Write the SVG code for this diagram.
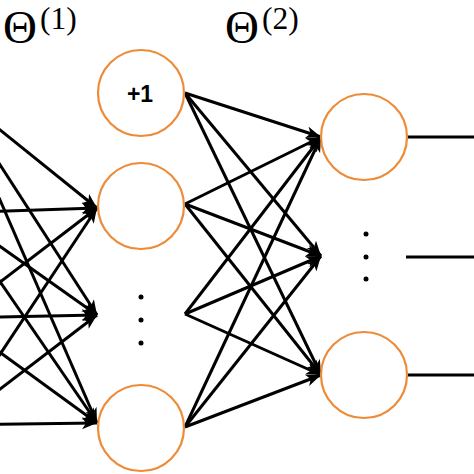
<svg xmlns="http://www.w3.org/2000/svg" width="474" height="474" viewBox="0 0 474 474">
<style>
.node{fill:#fff;stroke:#ED8B38;stroke-width:2.2}
.edge{stroke:#000;stroke-width:3;fill:none;marker-end:url(#arr)}
.out{stroke:#000;stroke-width:3;fill:none}
.dot{fill:#000}
.bias{font-family:"Liberation Sans",Arial,sans-serif;font-weight:bold;font-size:23px;fill:#000}
.theta{font-family:"Liberation Serif","Times New Roman",serif;fill:#000}
</style>
<defs>
<marker id="arr" markerUnits="userSpaceOnUse" markerWidth="16" markerHeight="13" refX="15" refY="6" orient="auto">
<path d="M0,0 L15,6 L0,12 L4,6 z" fill="#000"/>
</marker>
</defs>
<rect width="474" height="474" fill="#fff"/>
<g id="labels">
<text class="theta" x="3" y="42.5" font-size="47">Θ</text>
<text class="theta" x="40" y="28.5" font-size="31.5">(1)</text>
<text class="theta" x="225" y="42.5" font-size="47">Θ</text>
<text class="theta" x="262" y="28.5" font-size="31.5">(2)</text>
</g>
<g id="connectors">
<line class="edge" x1="-47" y1="92" x2="97" y2="208"/>
<line class="edge" x1="-47" y1="92" x2="97" y2="315"/>
<line class="edge" x1="-47" y1="92" x2="97" y2="423"/>
<line class="edge" x1="-47" y1="213" x2="97" y2="208"/>
<line class="edge" x1="-47" y1="213" x2="97" y2="315"/>
<line class="edge" x1="-47" y1="213" x2="97" y2="423"/>
<line class="edge" x1="-47" y1="318" x2="97" y2="208"/>
<line class="edge" x1="-47" y1="318" x2="97" y2="315"/>
<line class="edge" x1="-47" y1="318" x2="97" y2="423"/>
<line class="edge" x1="-47" y1="425" x2="97" y2="208"/>
<line class="edge" x1="-47" y1="425" x2="97" y2="315"/>
<line class="edge" x1="-47" y1="425" x2="97" y2="423"/>
<line class="edge" x1="185" y1="93" x2="321" y2="137"/>
<line class="edge" x1="185" y1="93" x2="321" y2="256"/>
<line class="edge" x1="185" y1="93" x2="321" y2="375"/>
<line class="edge" x1="185" y1="204" x2="321" y2="137"/>
<line class="edge" x1="185" y1="204" x2="321" y2="256"/>
<line class="edge" x1="185" y1="204" x2="321" y2="375"/>
<line class="edge" x1="185" y1="314" x2="321" y2="137"/>
<line class="edge" x1="185" y1="314" x2="321" y2="256"/>
<line class="edge" x1="185" y1="314" x2="321" y2="375"/>
<line class="edge" x1="185" y1="427" x2="321" y2="137"/>
<line class="edge" x1="185" y1="427" x2="321" y2="256"/>
<line class="edge" x1="185" y1="427" x2="321" y2="375"/>
<line class="out" x1="407" y1="137" x2="474" y2="137"/>
<line class="out" x1="406" y1="257" x2="474" y2="257"/>
<line class="out" x1="407" y1="375" x2="474" y2="375"/>
</g>
<g id="hidden-bias">
<circle class="node" cx="141" cy="93" r="43"/>
<text class="bias" x="140" y="102" text-anchor="middle">+1</text>
</g>
<g id="hidden-1">
<circle class="node" cx="141" cy="206" r="43"/>
</g>
<g id="hidden-dots">
<circle class="dot" cx="141" cy="297" r="2.5"/>
<circle class="dot" cx="141" cy="320" r="2.5"/>
<circle class="dot" cx="141" cy="343" r="2.5"/>
</g>
<g id="hidden-m">
<circle class="node" cx="141" cy="428" r="43"/>
</g>
<g id="output-1">
<circle class="node" cx="364" cy="137" r="43"/>
</g>
<g id="output-dots">
<circle class="dot" cx="366" cy="234" r="2.5"/>
<circle class="dot" cx="366" cy="257" r="2.5"/>
<circle class="dot" cx="366" cy="279" r="2.5"/>
</g>
<g id="output-k">
<circle class="node" cx="364" cy="375" r="43"/>
</g>
</svg>
